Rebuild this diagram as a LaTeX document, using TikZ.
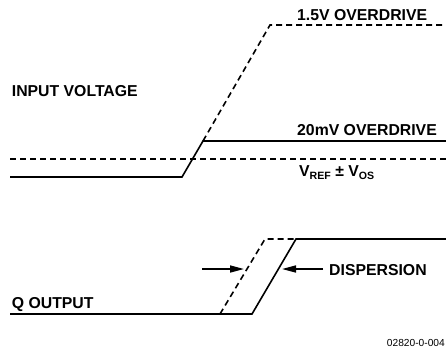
\documentclass[tikz,border=0pt]{standalone}
\usepackage{fontspec}
\setmainfont{Liberation Sans}
\usetikzlibrary{arrows.meta}

\begin{document}
\begin{tikzpicture}[x=1pt, y=-1pt,
      lbl/.style={font=\fontsize{15.8}{18}\selectfont\bfseries, anchor=base west, inner sep=0pt},
      wave/.style={line width=1.6pt, line join=miter},
      dwave/.style={wave, dash pattern=on 6pt off 4pt},
      disp/.style={line width=1.6pt, -{Triangle[length=14pt, width=7pt]}}]
    \useasboundingbox (0,0) rectangle (446,354);
    % input voltage
    \coordinate (i0) at (10,177);
    \coordinate (i1) at (182,177);
    \coordinate (i2) at (203,141);
    \coordinate (i3) at (446,141);
    \coordinate (h1) at (270,25);
    \coordinate (h2) at (446,25);
    \coordinate (r0) at (10,159);
    \coordinate (r1) at (446,159);
    \draw[wave] (i0) -- (i1) -- (i2) -- (i3);
    \draw[dwave] (i2) -- (h1) -- (h2);
    \draw[dwave] (r0) -- (r1);
    % Q output
    \coordinate (q0) at (10,314);
    \coordinate (q1) at (252,314);
    \coordinate (q2) at (296,239);
    \coordinate (q3) at (446,239);
    \coordinate (f0) at (220,314);
    \coordinate (f1) at (265,239);
    \draw[wave] (q0) -- (q1) -- (q2) -- (q3);
    \draw[dwave] (f0) -- (f1) -- (q2);
    \coordinate (al) at (202,269);
    \coordinate (ar) at (323,269);
    \draw[disp] (al) -- (244,269);
    \draw[disp] (ar) -- (282,269);
    % labels
    \node[lbl] (fast) at (297,20.5) {1.5V OVERDRIVE};
    \node[lbl] (inp) at (11.7,96.5) {INPUT VOLTAGE};
    \node[lbl] (slow) at (297,135) {20mV OVERDRIVE};
    \node[lbl] (vref) at (299,176.7) {V\raisebox{-2.6pt}{\fontsize{10.6}{12}\selectfont REF} ± V\raisebox{-2.6pt}{\fontsize{10.6}{12}\selectfont OS}};
    \node[lbl] (dsp) at (329,275.5) {DISPERSION};
    \node[lbl] (qout) at (11.7,308) {Q OUTPUT};
    \node[anchor=base east, inner sep=0pt, font=\fontsize{10.2}{12}\selectfont] (fig) at (445,346.7) {02820-0-004};
\end{tikzpicture}
\end{document}
